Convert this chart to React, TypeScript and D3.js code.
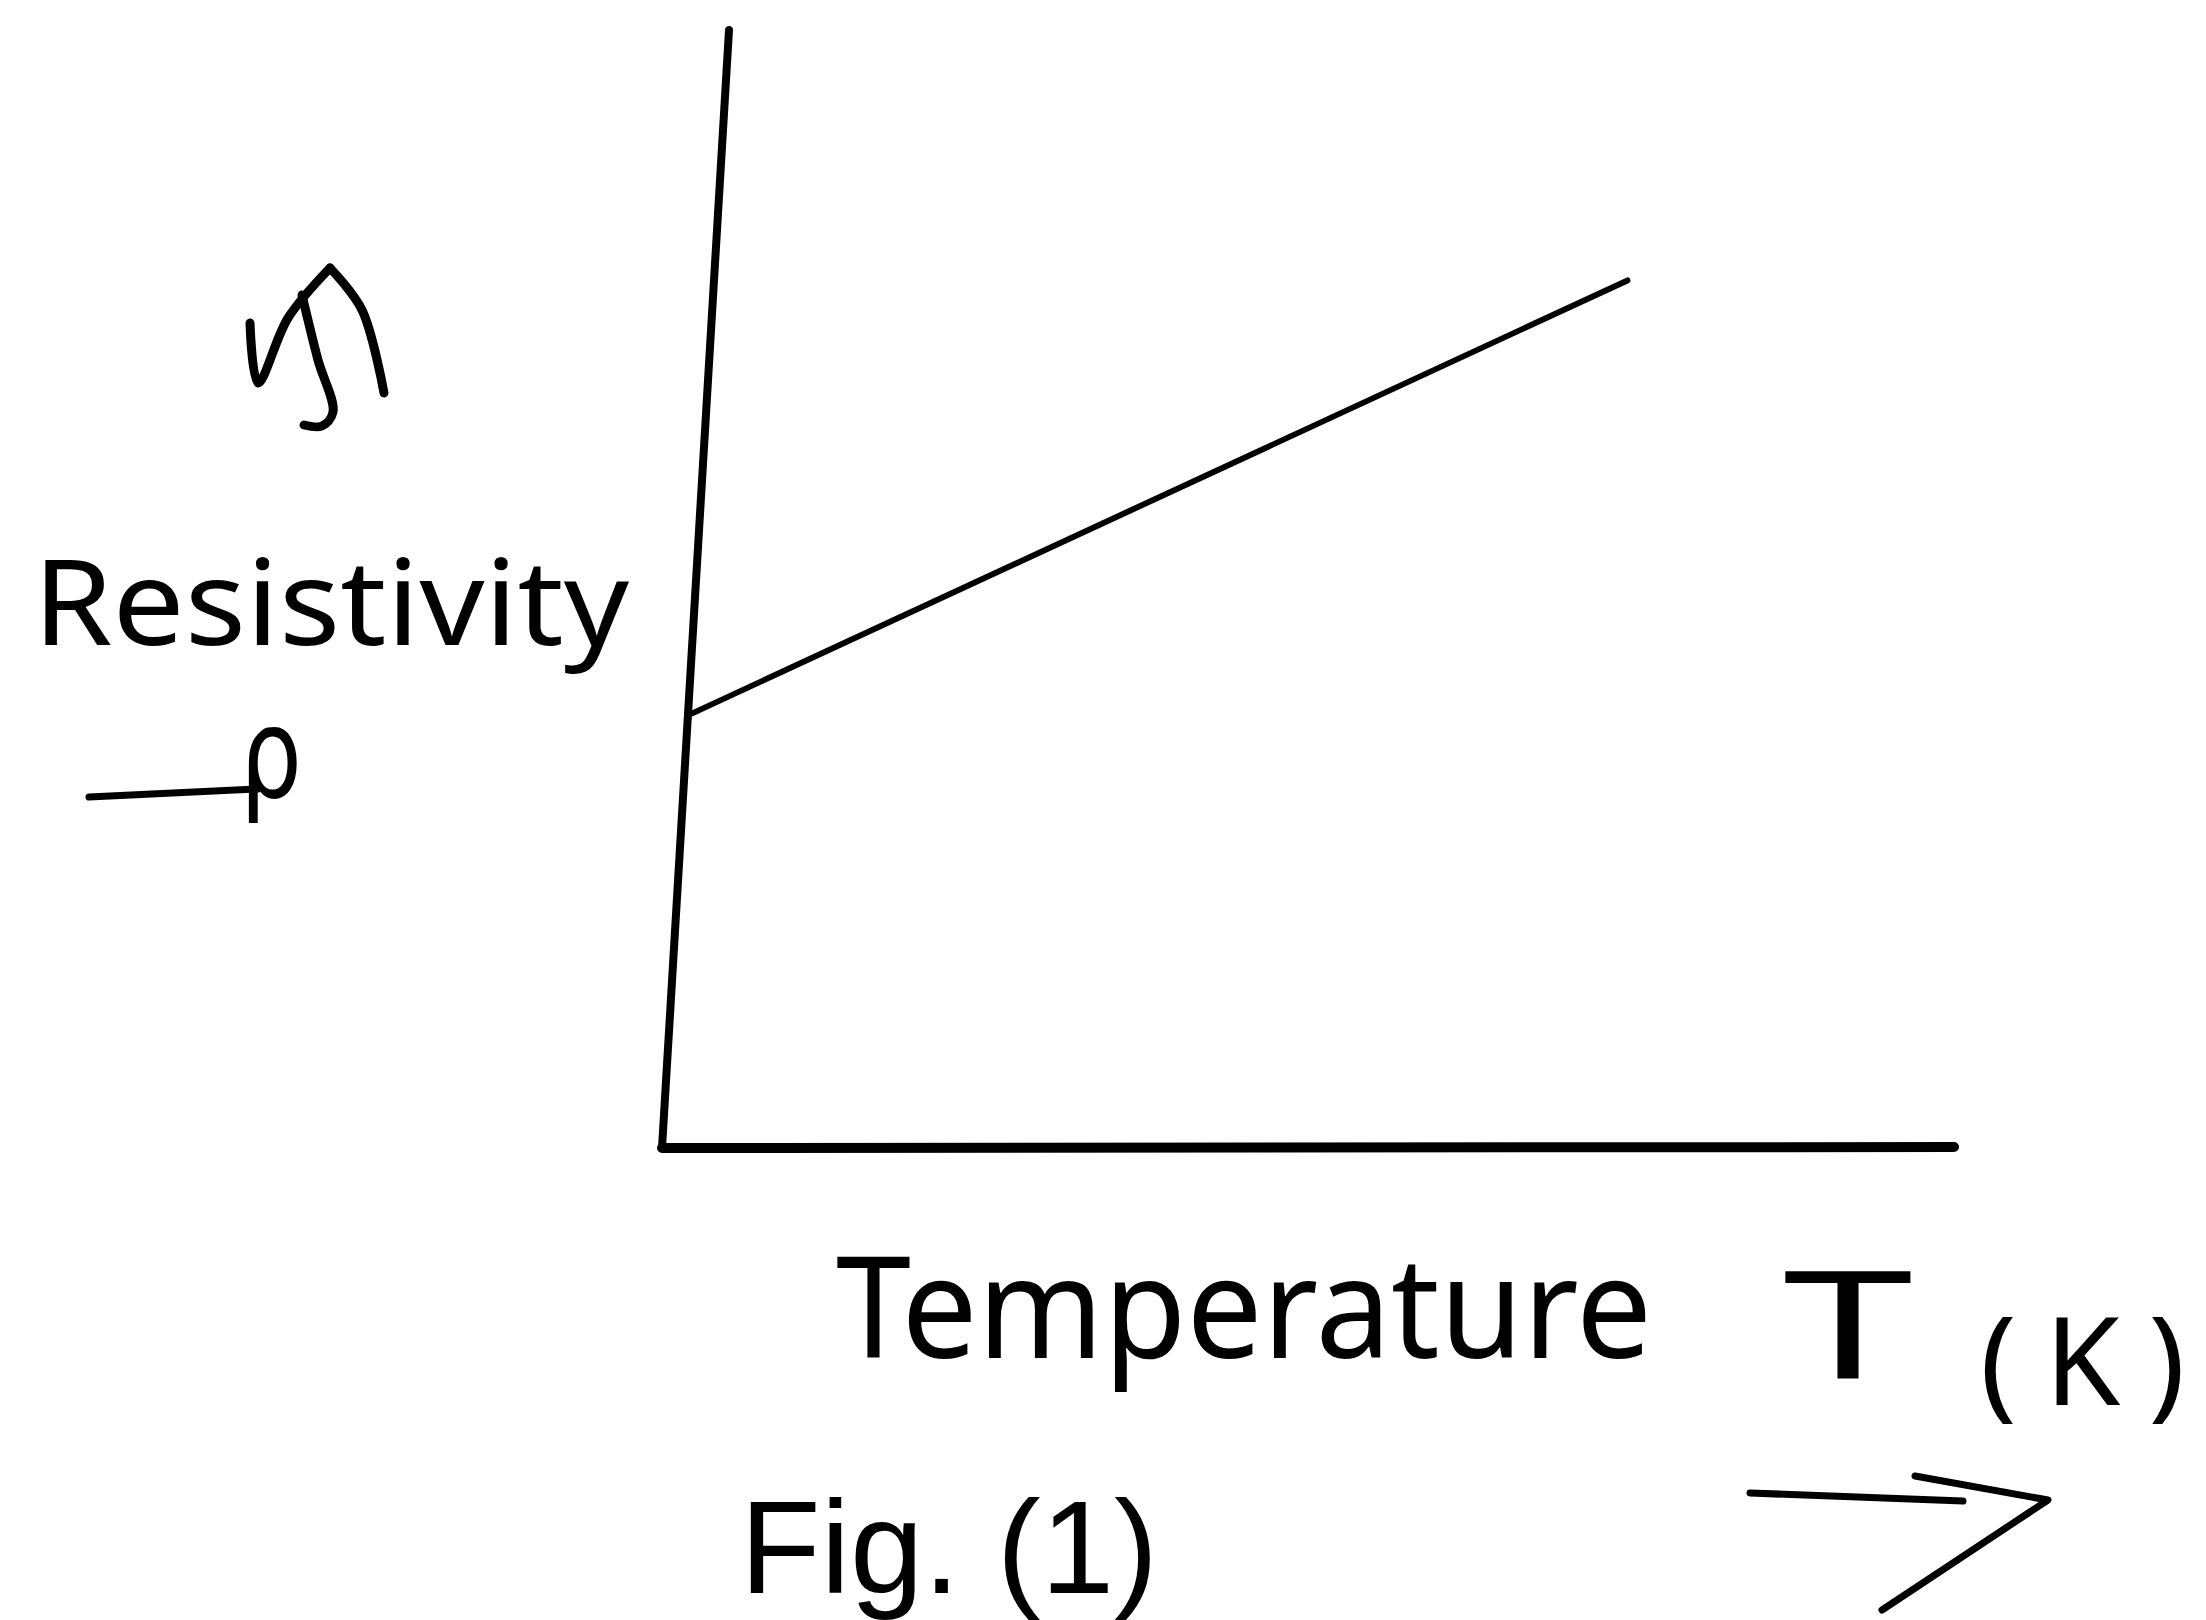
import React from "react";
import * as d3 from "d3";

// ---- data (arbitrary units, schematic graph) ----
const temperature = [0, 70.7];
const resistivity = [38.7, 77.6];
const tempDomain = [0, 100];
const rhoDomain = [0, 100];

const xAxisLabel = "Temperature";
const xAxisSymbol = "T";
const xAxisUnit = "(K)";
const yAxisLabel = "Resistivity";
const yAxisSymbol = "ρ";
const caption = "Fig. (1)";

const W = 2206;
const H = 1620;

export default function App() {
  // layout
  const originX = 662;
  const originY = 1148;
  const plotW = 1292;
  const plotH = 1118;
  const skewDeg = -(Math.atan(67 / plotH) * 180) / Math.PI; // hand-drawn tilt of y axis

  const x = d3.scaleLinear().domain(tempDomain).range([0, plotW]);
  const y = d3.scaleLinear().domain(rhoDomain).range([0, -plotH]);

  const pts = temperature.map((t, i) => [t, resistivity[i]] as [number, number]);
  const linePath = d3
    .line<[number, number]>()
    .x((d) => x(d[0]))
    .y((d) => y(d[1]))(pts) as string;

  const hand = "'Noto Sans', 'DejaVu Sans', sans-serif";

  const curve = d3.line<[number, number]>().curve(d3.curveCatmullRom.alpha(0.5));

  // hand-drawn arrow glyphs (annotations)
  const upArrowLeft = curve([
    [250, 323],
    [258, 383],
    [288, 318],
    [330, 268],
  ]) as string;
  const upArrowRight = curve([
    [330, 268],
    [362, 310],
    [384, 393],
  ]) as string;
  const upArrowShaft = curve([
    [302, 295],
    [318, 360],
    [333, 412],
    [322, 426],
    [304, 425],
  ]) as string;

  const rightArrowShaft = d3.line()([
    [1750, 1493],
    [1963, 1501],
  ]) as string;
  const rightArrowHead = d3.line()([
    [1915, 1476],
    [2048, 1500],
    [1882, 1610],
  ]) as string;

  return (
    <div style={{ position: "absolute", left: 0, top: 0 }}>
      <svg width={W} height={H} viewBox={`0 0 ${W} ${H}`} style={{ display: "block", background: "#fff" }}>
        <rect width={W} height={H} fill="#fff" />
        <g transform={`translate(${originX},${originY}) skewX(${skewDeg})`}>
          {/* y axis */}
          <line
            x1={x(tempDomain[0])}
            y1={y(rhoDomain[0])}
            x2={x(tempDomain[0])}
            y2={y(rhoDomain[1])}
            stroke="#000"
            strokeWidth={8}
            strokeLinecap="round"
          />
          {/* series */}
          <path d={linePath} fill="none" stroke="#000" strokeWidth={6} strokeLinecap="round" />
        </g>
        {/* x axis */}
        <line
          x1={originX + x(tempDomain[0])}
          y1={originY}
          x2={originX + x(tempDomain[1])}
          y2={originY - 1}
          stroke="#000"
          strokeWidth={10}
          strokeLinecap="round"
        />

        {/* y label */}
        <g stroke="#000" strokeWidth={9} fill="none" strokeLinecap="round" strokeLinejoin="round">
          <path d={upArrowLeft} />
          <path d={upArrowRight} />
          <path d={upArrowShaft} />
        </g>
        <text x={33} y={645} fontFamily={hand} fontSize={118} textLength={596} lengthAdjust="spacingAndGlyphs" fill="#000">
          {yAxisLabel}
        </text>
        <line x1={89} y1={797} x2={258} y2={789} stroke="#000" strokeWidth={7} strokeLinecap="round" />
        <text
          x={240}
          y={797}
          fontFamily="'DejaVu Sans', sans-serif"
          fontSize={124}
          textLength={62}
          lengthAdjust="spacingAndGlyphs"
          fill="#000"
        >
          {yAxisSymbol}
        </text>

        {/* x label */}
        <text x={836} y={1358} fontFamily={hand} fontSize={140} textLength={816} lengthAdjust="spacingAndGlyphs" fill="#000">
          {xAxisLabel}
        </text>
        <text x={1783} y={1378} fontFamily={hand} fontSize={150} textLength={130} lengthAdjust="spacingAndGlyphs" fill="#000">
          {xAxisSymbol}
        </text>
        <text x={1980} y={1405} fontFamily={hand} fontSize={122} textLength={205} lengthAdjust="spacing" fill="#000">
          {xAxisUnit}
        </text>
        <g stroke="#000" strokeWidth={7} fill="none" strokeLinecap="round" strokeLinejoin="round">
          <path d={rightArrowShaft} />
          <path d={rightArrowHead} />
        </g>

        {/* caption */}
        <text x={740} y={1593} fontFamily="'Liberation Sans', Arial, sans-serif" fontSize={132} fill="#000">
          {caption}
        </text>
      </svg>
    </div>
  );
}
